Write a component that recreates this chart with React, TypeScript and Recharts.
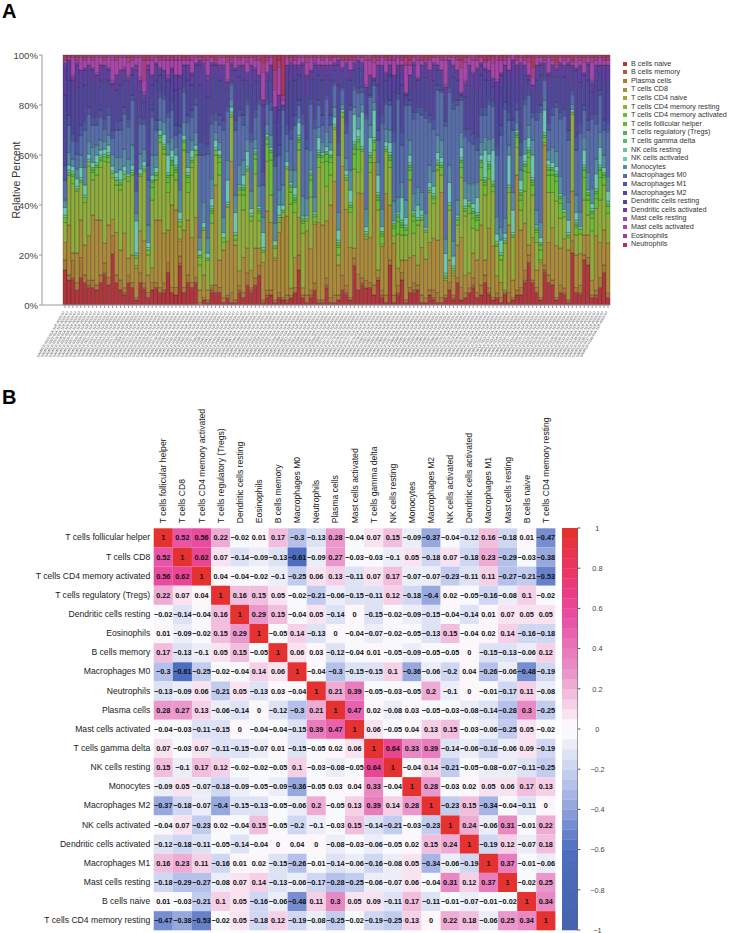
import React from 'react';
import { BarChart, Bar, XAxis, YAxis, ScatterChart, Scatter } from 'recharts';

const FONT = '"Liberation Sans", Arial, sans-serif';

// ---------- Panel A: composition of each sample ----------
const bNaive = [14,10,10,6,11,9,7,7,6,9,12,8,22,9,6,4,9,7,2,9,6,3,6,7,5,5,13,5,4,16,5,9,7,9,0,2,1,5,5,5,1,3,1,1,5,3,8,5,8,12,1,3,4,1,3,2,1,3,5,14,3,1,3,6,1,1,7,1,1,2,6,4,2,16,6,8,7,7,4,10,3,1,16,1,4,10,1,5,5,6,1,1,4,2,1,1,3,6,2,9,2,3,5,7,3,4,9,4,2,3,1,4,1,2,4,4,9,17,9,5,2,13,9,8,2,5,4,1,21,5,4,18,16,3,3,7,13,3];
const bMemory = [0,0,1,0,0,0,1,0,0,0,1,0,0,0,0,1,0,0,0,0,1,0,0,0,0,1,0,0,0,1,0,0,0,0,0,0,0,1,0,0,0,0,0,0,1,0,0,1,0,0,0,1,0,0,0,0,1,0,0,0,0,0,1,0,0,0,1,0,0,0,0,1,0,0,0,1,0,0,0,0,1,0,0,0,1,0,0,0,1,0,0,0,0,1,0,0,0,0,1,0,0,0,0,1,0,0,0,1,0,0,0,1,0,0,0,0,1,0,0,0,0,1,0,0,0,0,1,0,0,0,1,0,0,0,1,0,0,0];
const plasmaCells = [4,2,7,3,8,3,2,3,2,3,4,3,8,3,4,2,3,2,1,4,2,2,3,2,2,3,4,2,3,3,2,3,2,2,1,1,1,1,3,2,2,1,4,1,2,2,5,1,3,4,1,2,2,1,2,1,2,1,2,6,1,3,2,3,1,1,3,2,3,2,6,3,1,3,6,2,3,2,4,1,2,3,2,3,3,3,1,2,3,2,3,2,2,3,4,2,1,3,1,2,5,2,2,3,2,4,3,2,1,2,2,0,4,1,2,3,4,3,1,2,1,2,3,2,1,3,2,1,5,2,3,2,3,1,2,4,3,2];
const tCD8 = [7,20,3,12,15,12,18,26,26,22,8,21,7,17,12,22,7,11,12,17,17,7,6,25,27,20,13,33,31,6,23,22,18,24,5,9,4,1,40,11,19,22,53,22,6,14,10,7,12,7,15,32,27,16,24,32,32,3,12,15,3,26,17,24,31,30,23,37,46,12,44,31,20,4,32,34,17,18,49,3,18,41,22,21,7,5,16,12,11,8,19,16,19,21,21,42,6,9,8,13,20,7,6,10,13,24,6,24,20,7,6,1,27,7,46,23,19,4,17,7,14,48,13,21,21,15,20,20,20,13,13,8,9,6,22,14,14,20];
const tCD4Naive = [0,0,0,0,0,0,0,0,0,0,0,0,0,0,0,0,0,0,1,0,0,0,0,0,0,0,0,0,0,1,0,0,0,0,0,0,0,0,0,0,0,0,0,0,0,0,0,0,0,0,0,0,0,1,0,0,0,0,0,0,0,0,0,0,0,0,0,0,0,0,0,0,0,0,0,0,0,0,0,0,0,0,0,0,0,0,0,0,0,0,0,0,0,0,0,0,0,0,1,0,0,0,0,0,0,0,0,0,0,0,0,0,0,0,0,0,0,0,0,0,0,0,0,0,0,0,0,0,0,0,0,0,0,0,0,0,0,0];
const tCD4Resting = [8,20,28,25,15,17,28,14,18,21,33,25,18,19,24,22,31,32,3,22,28,8,27,16,31,32,15,12,12,5,32,11,28,25,10,18,12,25,12,34,3,14,18,2,31,19,31,20,30,11,4,20,11,4,4,2,19,35,18,27,22,4,21,1,22,25,14,12,21,4,20,12,14,32,8,17,1,26,5,24,1,17,15,3,14,10,10,31,9,16,11,11,20,14,28,7,1,20,1,8,24,24,24,10,12,18,26,20,21,12,9,19,13,17,11,8,13,29,17,11,1,1,20,14,18,12,9,5,31,8,8,14,8,20,11,17,18,12];
const tCD4Activated = [2,1,3,1,1,2,2,3,3,3,2,2,2,2,2,2,2,1,1,1,1,2,5,2,2,2,4,4,3,2,3,4,2,2,3,1,1,4,2,5,2,1,1,2,2,6,1,2,6,3,1,7,14,1,2,1,1,5,4,3,4,1,7,2,4,2,10,5,1,3,2,1,2,6,9,1,1,4,3,4,3,1,3,3,5,3,2,4,5,2,1,1,1,2,2,3,1,2,1,2,4,2,3,4,4,5,4,4,2,1,2,1,2,1,4,4,8,6,4,4,4,2,7,7,8,6,2,1,1,3,2,9,6,5,4,9,3,3];
const tFollicularHelper = [0,0,1,0,0,0,0,1,1,1,0,1,0,0,1,0,0,0,0,0,0,0,2,1,1,1,2,1,1,0,1,2,1,0,1,0,0,1,0,2,0,0,0,0,1,2,0,0,2,1,0,2,3,0,0,0,0,2,1,1,1,0,2,1,1,1,3,2,0,1,0,0,1,2,3,0,0,2,1,1,1,0,1,1,2,1,1,1,2,0,0,0,0,1,1,1,0,0,0,1,2,1,1,2,1,2,1,1,1,0,0,0,0,0,1,2,2,2,1,1,2,1,2,2,2,2,0,0,0,1,0,3,2,2,2,3,1,1];
const tRegulatory = [0,0,0,0,0,0,0,1,0,0,0,0,0,0,0,0,0,0,0,0,0,0,1,0,0,0,1,1,1,0,0,1,0,0,0,0,0,1,0,1,0,0,0,0,0,1,0,0,1,1,0,1,1,0,0,0,0,1,1,1,1,0,1,0,1,0,1,1,0,1,0,0,0,1,1,0,0,1,0,1,1,0,1,1,1,1,0,1,1,0,0,0,0,0,0,0,0,0,0,0,1,0,0,1,1,1,1,1,0,0,0,0,0,0,1,1,1,1,1,1,1,0,1,1,1,1,0,0,0,1,0,1,1,1,1,1,1,0];
const tGammaDelta = [0,0,0,0,0,0,0,0,0,0,0,0,0,0,0,0,0,0,0,0,0,0,0,0,0,0,0,0,0,0,0,0,0,0,0,0,0,0,0,0,0,0,0,0,0,0,0,0,0,0,0,0,0,0,0,0,0,0,0,0,0,0,0,0,0,0,0,0,0,0,0,0,0,1,0,0,0,0,0,0,0,0,0,0,0,0,0,0,0,0,0,0,0,0,0,0,0,0,0,0,0,0,0,0,0,0,0,0,0,0,0,0,0,0,0,0,0,0,0,0,0,0,0,0,0,0,0,0,0,0,0,0,0,0,0,0,0,0];
const nkResting = [1,1,1,1,1,1,1,0,1,1,1,1,1,1,1,1,0,1,1,0,1,1,0,0,0,1,1,1,1,1,0,1,1,0,0,0,0,1,1,0,0,1,1,1,0,1,1,1,0,0,1,0,0,0,1,0,0,0,1,1,0,0,0,0,1,0,0,0,1,1,0,1,1,1,1,1,1,1,1,1,0,1,1,0,0,1,1,1,0,1,1,0,1,1,1,1,1,1,1,0,1,1,0,1,1,0,1,1,1,1,1,1,1,1,0,1,1,1,1,0,0,1,1,0,1,0,0,1,0,1,0,1,0,1,1,1,0,1];
const nkActivated = [3,2,2,3,4,4,2,2,3,2,2,3,2,2,4,2,1,2,13,2,2,2,2,2,2,4,7,3,4,3,2,2,3,2,2,2,2,3,3,2,2,9,2,8,1,4,6,2,1,1,6,1,1,2,4,2,2,1,3,5,1,1,1,1,5,1,2,2,3,4,1,2,5,11,3,14,2,6,11,7,2,2,4,1,1,9,3,3,1,5,2,1,2,3,3,2,8,8,4,1,4,3,1,2,6,2,11,3,12,3,5,2,12,9,1,4,3,4,9,1,2,9,2,2,2,1,1,5,1,3,1,6,1,2,6,7,2,4];
const monocytes = [3,5,3,4,5,7,5,6,4,4,3,4,5,6,5,7,6,8,3,6,5,7,8,5,4,5,5,5,3,9,5,6,4,5,5,8,6,8,3,3,6,8,3,7,8,6,5,7,4,8,6,4,5,7,6,8,4,5,7,2,8,7,8,6,4,4,6,3,4,7,2,5,8,3,5,3,7,5,3,5,7,5,5,8,6,6,7,6,7,7,7,6,7,6,7,7,6,7,6,6,6,7,7,8,6,5,5,6,5,7,5,6,4,7,3,4,6,5,6,6,6,4,4,6,6,7,6,7,2,7,6,5,7,6,6,6,5,6];
const macrophagesM0 = [8,11,7,6,8,15,11,9,8,9,5,8,7,11,11,14,13,18,9,12,10,18,15,10,9,9,10,11,5,23,12,12,9,11,33,19,34,22,5,7,35,20,6,26,20,14,14,20,9,33,13,8,10,23,14,30,7,13,18,5,29,20,19,28,9,7,13,7,9,23,6,10,24,7,9,5,37,11,7,9,35,10,10,24,40,15,38,14,30,30,31,39,17,17,18,19,46,29,54,38,13,18,17,16,13,11,9,14,12,25,37,44,10,25,5,6,14,12,9,36,44,8,8,13,18,23,32,25,4,18,32,11,17,28,14,15,10,18];
const macrophagesM1 = [6,4,3,5,4,3,3,3,3,3,4,3,3,3,4,3,3,2,7,3,2,6,3,4,2,2,2,3,4,3,2,3,3,3,5,5,4,4,3,4,4,2,1,4,3,4,2,4,3,2,5,2,3,4,4,1,4,4,4,2,4,4,2,4,2,4,2,4,1,5,1,4,2,2,2,2,2,1,1,4,4,2,2,4,2,5,1,2,3,2,3,3,3,4,2,1,2,2,3,2,1,3,5,4,5,3,3,2,2,4,4,3,3,4,3,5,2,1,2,3,3,1,3,3,2,3,3,4,2,5,4,2,4,2,4,2,4,4];
const macrophagesM2 = [28,14,16,22,15,15,12,14,12,12,15,11,15,13,14,11,12,8,30,10,7,27,10,16,7,7,10,10,14,15,6,14,10,10,23,22,19,15,14,14,15,7,5,15,13,14,8,19,12,7,20,8,10,14,14,1,17,20,14,10,15,18,8,16,10,14,8,14,5,23,6,18,10,6,8,7,8,5,1,18,14,8,10,16,8,19,3,7,14,8,12,14,13,16,6,5,10,8,10,8,1,13,18,18,20,13,11,8,6,18,15,10,12,17,10,22,10,5,8,13,12,4,14,12,10,14,13,19,7,20,17,9,16,9,14,7,15,16];
const dendriticResting = [11,7,6,9,6,6,4,5,4,5,6,4,5,5,5,4,4,3,12,4,3,11,3,6,3,3,3,3,5,5,3,5,4,3,8,8,7,5,5,5,6,3,2,5,4,5,3,7,4,3,7,3,4,5,5,0,6,7,5,3,5,7,3,6,3,5,3,5,2,8,2,6,3,3,3,3,3,2,1,7,5,3,3,6,3,7,1,3,5,3,4,5,4,6,2,2,3,3,4,3,1,5,7,6,7,4,4,3,3,7,5,4,4,6,4,8,3,2,3,5,4,2,5,4,3,5,4,7,3,7,6,3,6,3,5,3,6,6];
const dendriticActivated = [2,1,1,1,1,1,1,1,1,1,1,1,1,1,1,1,1,0,2,1,0,2,1,1,0,0,1,1,1,1,0,1,1,1,2,2,2,1,1,1,1,0,1,1,1,1,0,1,1,0,2,0,1,1,1,0,1,1,1,1,1,1,1,1,1,1,1,1,1,2,0,1,1,0,0,0,0,1,0,1,1,0,1,1,1,1,0,0,1,1,1,1,1,1,0,1,1,0,1,1,0,1,1,1,1,1,1,1,0,1,1,1,1,1,1,2,1,0,0,1,1,0,1,1,1,1,1,1,0,1,1,1,1,1,1,0,1,1];
const mastResting = [0,0,1,0,0,0,0,0,1,0,0,0,1,0,0,0,1,0,0,1,1,0,0,0,0,0,1,0,0,0,0,0,0,0,0,0,0,0,0,0,0,1,0,0,0,0,0,0,0,0,0,0,0,0,0,0,0,0,0,0,0,0,0,0,0,0,0,0,0,0,0,0,0,0,0,0,1,0,0,0,0,0,0,0,0,0,0,0,0,0,0,0,0,0,0,0,1,0,0,0,0,1,0,0,0,0,0,0,0,1,0,0,0,0,0,0,0,0,0,0,0,0,0,0,0,0,0,0,0,0,0,0,0,1,0,0,0,0];
const mastActivated = [1,1,7,1,5,3,3,3,6,3,2,4,9,6,5,4,5,3,3,8,5,2,6,2,3,4,6,3,6,6,2,2,5,2,1,1,6,2,1,3,3,7,1,4,2,3,4,3,3,6,11,5,3,7,11,2,3,1,2,3,2,5,5,1,3,2,3,2,2,1,3,1,4,1,1,2,10,6,6,2,3,5,2,6,3,2,11,4,2,7,2,1,4,2,3,4,10,1,3,4,10,7,3,5,3,2,2,4,6,8,5,2,5,2,2,2,2,5,3,3,2,1,6,2,1,2,2,2,1,4,2,4,2,7,2,3,2,2];
const eosinophils = [1,0,1,1,1,1,1,1,1,1,1,1,2,1,1,1,2,1,1,1,8,1,2,1,1,1,2,1,2,2,1,1,2,1,0,1,2,0,0,1,1,2,1,1,1,1,2,1,1,2,4,1,1,8,3,2,1,1,1,1,1,2,1,1,1,1,1,1,0,0,1,0,1,1,1,0,2,2,2,1,1,1,1,2,1,1,3,2,0,2,1,0,1,0,1,1,2,0,1,1,3,2,1,2,1,0,1,1,2,2,1,1,1,0,1,1,1,2,4,1,0,1,1,1,1,1,1,0,1,1,1,2,1,2,1,1,1,1];
const neutrophils = [1,1,0,1,0,1,0,1,0,0,1,0,0,1,0,0,1,1,0,0,2,1,0,0,1,1,0,1,0,0,1,1,0,0,1,1,0,1,2,0,0,1,1,0,1,0,1,0,1,0,3,1,0,6,2,16,0,1,1,0,0,1,0,1,0,1,0,1,1,1,1,2,1,1,0,1,0,0,1,1,0,1,1,0,0,1,1,2,1,0,1,2,1,1,0,1,0,1,0,1,2,1,0,0,1,1,2,1,1,0,1,1,0,0,1,0,1,1,5,0,1,1,0,1,3,0,1,1,2,0,1,1,0,1,1,0,1,1];

const seriesNames = ['B cells naive','B cells memory','Plasma cells','T cells CD8','T cells CD4 naive','T cells CD4 memory resting','T cells CD4 memory activated','T cells follicular helper','T cells regulatory (Tregs)','T cells gamma delta','NK cells resting','NK cells activated','Monocytes','Macrophages M0','Macrophages M1','Macrophages M2','Dendritic cells resting','Dendritic cells activated','Mast cells resting','Mast cells activated','Eosinophils','Neutrophils'];
const seriesValues = [bNaive,bMemory,plasmaCells,tCD8,tCD4Naive,tCD4Resting,tCD4Activated,tFollicularHelper,tRegulatory,tGammaDelta,nkResting,nkActivated,monocytes,macrophagesM0,macrophagesM1,macrophagesM2,dendriticResting,dendriticActivated,mastResting,mastActivated,eosinophils,neutrophils];
const seriesColors = ['#B2363C','#B05C38','#AC7838','#AC8C3A','#A5A03A','#90AE3C','#6ABE34','#5CBE36','#52BA44','#54BC70','#64C896','#6CC8B2','#558DA4','#566FAC','#4C55A6','#50469E','#5E3EA2','#7238A4','#9246B0','#AC44AC','#AC3C86','#AE3458'];
const percentTicks = [0, 0.2, 0.4, 0.6, 0.8, 1];
// The sample names on the x axis cannot be read in the picture: placeholders of the same length.
const sampleLabels = bNaive.map((_, i) => `SAMPLE-${String(i + 1).padStart(4, '0')}-01A-11R-A00X-07`);
const barRows = sampleLabels.map((label, i) => {
  const row: Record<string, any> = { label };
  seriesNames.forEach((n, s) => { row[n] = seriesValues[s][i] ?? 0; });
  return row;
});

// ---------- Panel B: correlation matrix ----------
const corrLabels = ['T cells follicular helper','T cells CD8','T cells CD4 memory activated','T cells regulatory (Tregs)','Dendritic cells resting','Eosinophils','B cells memory','Macrophages M0','Neutrophils','Plasma cells','Mast cells activated','T cells gamma delta','NK cells resting','Monocytes','Macrophages M2','NK cells activated','Dendritic cells activated','Macrophages M1','Mast cells resting','B cells naive','T cells CD4 memory resting'];
const corrMatrix = [
  [1,0.52,0.56,0.22,-0.02,0.01,0.17,-0.3,-0.13,0.28,-0.04,0.07,0.15,-0.09,-0.37,-0.04,-0.12,0.16,-0.18,0.01,-0.47],
  [0.52,1,0.62,0.07,-0.14,-0.09,-0.13,-0.61,-0.09,0.27,-0.03,-0.03,-0.1,0.05,-0.18,0.07,-0.18,0.23,-0.29,-0.03,-0.38],
  [0.56,0.62,1,0.04,-0.04,-0.02,-0.1,-0.25,0.06,0.13,-0.11,0.07,0.17,-0.07,-0.07,-0.23,-0.11,0.11,-0.27,-0.21,-0.53],
  [0.22,0.07,0.04,1,0.16,0.15,0.05,-0.02,-0.21,-0.06,-0.15,-0.11,0.12,-0.18,-0.4,0.02,-0.05,-0.16,-0.08,0.1,-0.02],
  [-0.02,-0.14,-0.04,0.16,1,0.29,0.15,-0.04,0.05,-0.14,0,-0.15,-0.02,-0.09,-0.15,-0.04,-0.14,0.01,0.07,0.05,0.05],
  [0.01,-0.09,-0.02,0.15,0.29,1,-0.05,0.14,-0.13,0,-0.04,-0.07,-0.02,-0.05,-0.13,0.15,-0.04,0.02,0.14,-0.16,-0.18],
  [0.17,-0.13,-0.1,0.05,0.15,-0.05,1,0.06,0.03,-0.12,-0.04,0.01,-0.05,-0.09,-0.05,-0.05,0,-0.15,-0.13,-0.06,0.12],
  [-0.3,-0.61,-0.25,-0.02,-0.04,0.14,0.06,1,-0.04,-0.3,-0.15,-0.15,0.1,-0.36,-0.06,-0.2,0.04,-0.26,-0.06,-0.48,-0.19],
  [-0.13,-0.09,0.06,-0.21,0.05,-0.13,0.03,-0.04,1,0.21,0.39,-0.05,-0.03,-0.05,0.2,-0.1,0,-0.01,-0.17,0.11,-0.08],
  [0.28,0.27,0.13,-0.06,-0.14,0,-0.12,-0.3,0.21,1,0.47,0.02,-0.08,0.03,-0.05,-0.03,-0.08,-0.14,-0.28,0.3,-0.25],
  [-0.04,-0.03,-0.11,-0.15,0,-0.04,-0.04,-0.15,0.39,0.47,1,0.06,-0.05,0.04,0.13,0.15,-0.03,-0.06,-0.25,0.05,-0.02],
  [0.07,-0.03,0.07,-0.11,-0.15,-0.07,0.01,-0.15,-0.05,0.02,0.06,1,0.64,0.33,0.39,-0.14,-0.06,-0.16,-0.06,0.09,-0.19],
  [0.15,-0.1,0.17,0.12,-0.02,-0.02,-0.05,0.1,-0.03,-0.08,-0.05,0.64,1,-0.04,0.14,-0.21,-0.05,-0.08,-0.07,-0.11,-0.25],
  [-0.09,0.05,-0.07,-0.18,-0.09,-0.05,-0.09,-0.36,-0.05,0.03,0.04,0.33,-0.04,1,0.28,-0.03,0.02,0.05,0.06,0.17,0.13],
  [-0.37,-0.18,-0.07,-0.4,-0.15,-0.13,-0.05,-0.06,0.2,-0.05,0.13,0.39,0.14,0.28,1,-0.23,0.15,-0.34,-0.04,-0.11,0],
  [-0.04,0.07,-0.23,0.02,-0.04,0.15,-0.05,-0.2,-0.1,-0.03,0.15,-0.14,-0.21,-0.03,-0.23,1,0.24,-0.06,0.31,-0.01,0.22],
  [-0.12,-0.18,-0.11,-0.05,-0.14,-0.04,0,0.04,0,-0.08,-0.03,-0.06,-0.05,0.02,0.15,0.24,1,-0.19,0.12,-0.07,0.18],
  [0.16,0.23,0.11,-0.16,0.01,0.02,-0.15,-0.26,-0.01,-0.14,-0.06,-0.16,-0.08,0.05,-0.34,-0.06,-0.19,1,0.37,-0.01,-0.06],
  [-0.18,-0.29,-0.27,-0.08,0.07,0.14,-0.13,-0.06,-0.17,-0.28,-0.25,-0.06,-0.07,0.06,-0.04,0.31,0.12,0.37,1,-0.02,0.25],
  [0.01,-0.03,-0.21,0.1,0.05,-0.16,-0.06,-0.48,0.11,0.3,0.05,0.09,-0.11,0.17,-0.11,-0.01,-0.07,-0.01,-0.02,1,0.34],
  [-0.47,-0.38,-0.53,-0.02,0.05,-0.18,0.12,-0.19,-0.08,-0.25,-0.02,-0.19,-0.25,0.13,0,0.22,0.18,-0.06,0.25,0.34,1],
];
const colorbarTicks = [-1,-0.8,-0.6,-0.4,-0.2,0,0.2,0.4,0.6,0.8,1];
const colorStops: [number, string][] = [[-1,'#4462AE'],[-0.6,'#4E6EC0'],[-0.3,'#AEBBE8'],[0,'#FFFFFF'],[0.3,'#E88FC6'],[0.55,'#E84FA5'],[0.7,'#EC3A80'],[1,'#E5302A']];

const BIN_COUNT = 40;
const hex = (s: string) => [1, 3, 5].map((i) => parseInt(s.slice(i, i + 2), 16));
function colorOf(v: number) {
  const bin = Math.min(BIN_COUNT - 1, Math.floor(((v + 1) / 2) * BIN_COUNT));
  const c = -1 + (bin + 0.5) * (2 / BIN_COUNT);
  for (let i = 0; i < colorStops.length - 1; i++) {
    const [a, ca] = colorStops[i];
    const [b, cb] = colorStops[i + 1];
    if (c >= a && c <= b) {
      const t = (c - a) / (b - a);
      const A = hex(ca), B = hex(cb);
      return `rgb(${A.map((x, k) => Math.round(x + (B[k] - x) * t)).join(',')})`;
    }
  }
  return colorStops[colorStops.length - 1][1];
}
const heatCells = corrMatrix.flatMap((row, r) => row.map((value, c) => ({ x: c + 0.5, y: r + 0.5, value })));
const heatTicks = corrLabels.map((_, i) => i + 0.5);
const colorbarBins = Array.from({ length: BIN_COUNT }, (_, i) => ({ x: 0.5, y: -1 + (i + 0.5) * (2 / BIN_COUNT) }));

// ---------- Layout ----------
const HEAT_LEFT = 153.7, HEAT_RIGHT = 555.4, HEAT_TOP = 528.3, HEAT_BOTTOM = 930.3;
const CELL_W = (HEAT_RIGHT - HEAT_LEFT) / 21;
const CELL_H = (HEAT_BOTTOM - HEAT_TOP) / 21;
const fmt = (v: number) => String(v).replace('-', '\u2212');

const SampleTick = (p: any) => (
  <text x={p.x} y={p.y + 2} transform={`rotate(-60 ${p.x} ${p.y + 2})`} textAnchor="end" fontSize={3.5} fill="#444" fontFamily={FONT}>{p.payload.value}</text>
);
const PctTick = (p: any) => (
  <text x={p.x + 1} y={p.y + 3.5} textAnchor="end" fontSize={9.6} fill="#444" fontFamily={FONT}>{`${Math.round(p.payload.value * 100)}%`}</text>
);
const HeatCell = (p: any) => (
  <g>
    <rect x={p.cx - CELL_W / 2} y={p.cy - CELL_H / 2} width={CELL_W} height={CELL_H} fill={colorOf(p.payload.value)} />
    <text x={p.cx} y={p.cy + 2.6} textAnchor="middle" fontSize={7.3} fontWeight="bold" fill="#111" fontFamily={FONT}>{fmt(p.payload.value)}</text>
  </g>
);
const TopLabel = (p: any) => {
  const x = p.x + 3;
  const y = p.y + 3;
  return <text x={x} y={y} transform={`rotate(-90 ${x} ${y})`} fontSize={8.6} fill="#222" fontFamily={FONT}>{corrLabels[Math.round(p.payload.value - 0.5)]}</text>;
};
const LeftLabel = (p: any) => (
  <text x={p.x + 4.5} y={p.y + 2.5} textAnchor="end" fontSize={8.6} fill="#222" fontFamily={FONT}>{corrLabels[Math.round(p.payload.value - 0.5)]}</text>
);
const BarTick = (p: any) => (
  <text x={p.x + 15} y={p.y + 2.7} textAnchor="middle" fontSize={7.3} fill="#444" fontFamily={FONT}>{fmt(p.payload.value)}</text>
);
const BinRect = (p: any) => {
  const h = (HEAT_BOTTOM - HEAT_TOP) / BIN_COUNT;
  return <rect x={p.cx - 7.7} y={p.cy - h / 2} width={15.4} height={h + 0.3} fill={colorOf(p.payload.y)} />;
};
const panelLetter = (top: number): React.CSSProperties => ({ position: 'absolute', left: 2, top, fontFamily: FONT, fontWeight: 'bold', fontSize: 20, lineHeight: '23px', color: '#000' });

export default function App() {
  return (
    <div style={{ position: 'absolute', left: 0, top: 0, width: 738, height: 933, background: '#fff', overflow: 'hidden' }}>
      <div style={panelLetter(0)}>A</div>
      <div style={panelLetter(386)}>B</div>

      <div style={{ position: 'absolute', left: 0, top: 0 }}>
        <BarChart width={738} height={372} data={barRows} stackOffset="expand" barCategoryGap={0}
          margin={{ top: 55, right: 128, bottom: 0, left: 0 }}>
          <XAxis dataKey="label" interval={0} height={67} padding={{ left: 21, right: 0 }} tick={SampleTick} tickSize={3} stroke="#999" />
          <YAxis width={42} domain={[0, 1]} ticks={percentTicks} tick={PctTick} tickSize={3} stroke="#999"
            label={{ value: 'Relative Percent', angle: -90, position: 'insideLeft', offset: 16, style: { fontFamily: FONT, fontSize: 10.5, fill: '#333', textAnchor: 'middle' } }} />
          {seriesNames.map((n, i) => (
            <Bar key={n} dataKey={n} stackId="a" fill={seriesColors[i]} stroke="#222" strokeWidth={0.3} isAnimationActive={false} />
          ))}
        </BarChart>
      </div>

      <div style={{ position: 'absolute', left: 623, top: 59.5, fontFamily: FONT, fontSize: 7.2, color: '#333' }}>
        {seriesNames.map((n, i) => (
          <div key={n} style={{ height: 8.62, lineHeight: '8.62px', whiteSpace: 'nowrap', display: 'flex', alignItems: 'center' }}>
            <span style={{ display: 'inline-block', width: 4, height: 4, background: seriesColors[i], marginRight: 4 }} />
            {n}
          </div>
        ))}
      </div>

      <div style={{ position: 'absolute', left: 0, top: 0 }}>
        <ScatterChart width={738} height={933} margin={{ top: 0, right: 738 - HEAT_RIGHT, bottom: 933 - HEAT_BOTTOM, left: 0 }}>
          <XAxis xAxisId="h" type="number" dataKey="x" orientation="top" domain={[0, 21]} ticks={heatTicks} interval={0} height={HEAT_TOP} tick={TopLabel} tickLine={false} axisLine={false} />
          <YAxis yAxisId="h" type="number" dataKey="y" reversed domain={[0, 21]} ticks={heatTicks} interval={0} width={HEAT_LEFT} tick={LeftLabel} tickLine={false} axisLine={false} />
          <Scatter xAxisId="h" yAxisId="h" data={heatCells} shape={HeatCell} isAnimationActive={false} />
        </ScatterChart>
      </div>

      <div style={{ position: 'absolute', left: 562.3, top: 508.3 }}>
        <ScatterChart width={60} height={442} margin={{ top: 20, right: 0, bottom: 20, left: 0 }}>
          <XAxis type="number" dataKey="x" domain={[0, 1]} hide />
          <YAxis type="number" dataKey="y" orientation="right" domain={[-1, 1]} ticks={colorbarTicks} interval={0} width={44.6} tick={BarTick} tickSize={3} stroke="#555" />
          <Scatter data={colorbarBins} shape={BinRect} isAnimationActive={false} />
        </ScatterChart>
      </div>
    </div>
  );
}
